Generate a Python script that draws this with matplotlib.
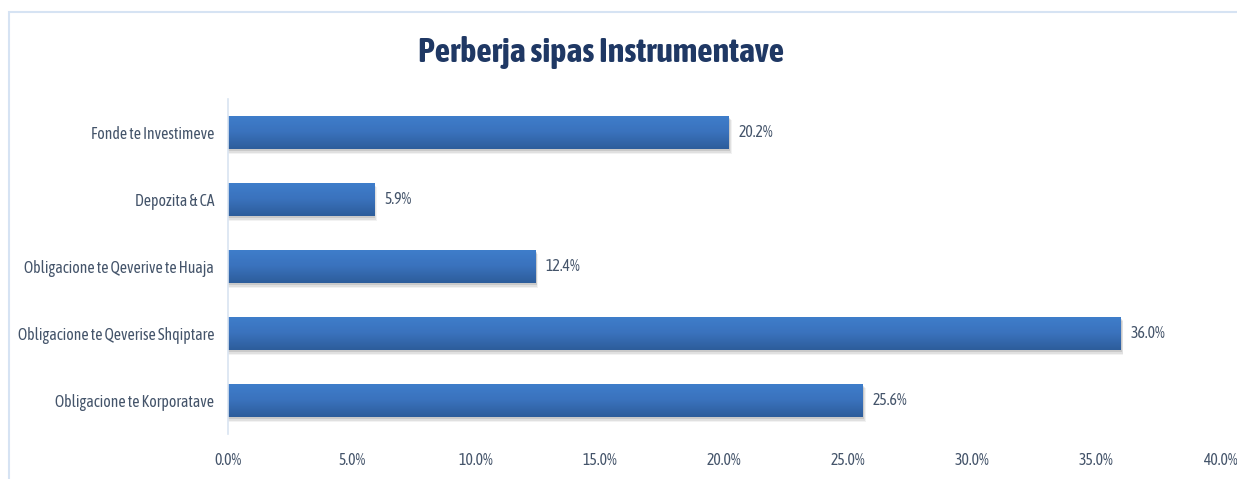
import numpy as np
import matplotlib
matplotlib.use('Agg')
import matplotlib.pyplot as plt
from matplotlib.colors import LinearSegmentedColormap
from matplotlib.patches import Rectangle

# data
categories = ['Obligacione te Korporatave', 'Obligacione te Qeverise Shqiptare',
              'Obligacione te Qeverive te Huaja', 'Depozita & CA', 'Fonde te Investimeve']
values = [25.6, 36.0, 12.4, 5.9, 20.2]
xticks = [0, 5, 10, 15, 20, 25, 30, 35, 40]

plt.rcParams['font.family'] = ['Asap Condensed', 'DejaVu Sans']
txt_col = '#44546a'

fig = plt.figure(figsize=(12.37, 4.79), dpi=100)
ax = fig.add_axes([0.1843, 0.0939, 0.8020, 0.6994])

# rand i grafikut
fig.patches.append(Rectangle((9 / 1237, -0.1), 1.2, 1 - 12 / 479 + 0.1, transform=fig.transFigure,
                             fill=False, edgecolor='#d6e3f3', lw=1.5))

y = np.arange(len(categories))
bars = ax.barh(y, values, height=0.5, color='none', zorder=3)

grad = LinearSegmentedColormap.from_list('g', ['#2d5d9b', '#3a72bd', '#3f7ecb'])
img = np.linspace(0, 1, 64).reshape(-1, 1)
for b in bars:
    x0, y0, w, h = b.get_x(), b.get_y(), b.get_width(), b.get_height()
    # hije e lehte poshte shiritit
    for k, a in [(0.07, 0.05), (0.05, 0.07), (0.03, 0.10)]:
        ax.add_patch(Rectangle((x0, y0 - k), w + k * 1.5, h, facecolor='#000000', alpha=a,
                               lw=0, zorder=1))
    im = ax.imshow(img, cmap=grad, aspect='auto', extent=(x0, x0 + w, y0, y0 + h),
                   origin='lower', zorder=2)
    im.set_clip_path(b)
    b.set_clip_on(False)

for i, v in enumerate(values):
    ax.text(v + 0.4, i, '%.1f%%' % v, va='center', ha='left', color=txt_col, fontsize=11.3)

ax.set_xlim(0, 40)
ax.set_ylim(-0.5, len(categories) - 0.5)
ax.set_xticks(xticks)
ax.set_xticklabels(['%.1f%%' % t for t in xticks], color=txt_col, fontsize=11.3)
ax.set_yticks(y)
ax.set_yticklabels(categories, color=txt_col, fontsize=11.3)
ax.tick_params(axis='x', length=0, pad=13)
ax.tick_params(axis='y', length=0, pad=10)
for s in ['top', 'right', 'bottom']:
    ax.spines[s].set_visible(False)
ax.spines['left'].set_color('#d9e4f1')
ax.spines['left'].set_linewidth(1.2)

fig.text(0.486, 0.89, 'Perberja sipas Instrumentave', ha='center', va='center',
         fontsize=24.5, fontweight='bold', color='#1f3864')

fig.savefig('out.png', dpi=100, facecolor='white')
